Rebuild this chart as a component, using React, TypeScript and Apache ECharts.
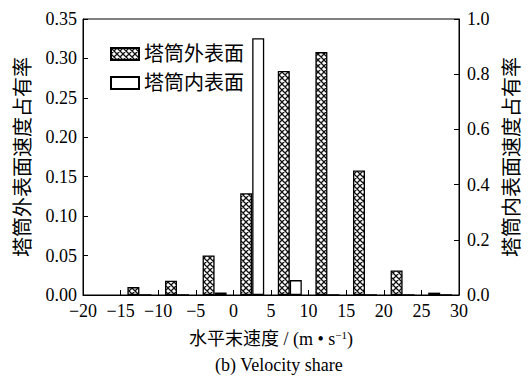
import React, { useEffect, useRef } from "react";
import * as echarts from "echarts";

const xCenters = [-12.5, -7.5, -2.5, 2.5, 7.5, 12.5, 17.5, 22.5, 27.5];
const outerShare = [0.010, 0.018, 0.050, 0.129, 0.284, 0.308, 0.158, 0.031, 0.003];
const innerShare = [0, 0, 0.009, 0.93, 0.054, 0, 0, 0, 0];
const seriesNames = ["塔筒外表面", "塔筒内表面"];
const leftAxisName = "塔筒外表面速度占有率";
const rightAxisName = "塔筒内表面速度占有率";
const xAxisNameMain = "水平末速度 / (m • s";
const captionText = "(b) Velocity share";

const FONT = "Liberation Serif, Noto Sans CJK SC, serif";

const hatchSvg =
  "<svg xmlns='http://www.w3.org/2000/svg' width='6' height='6'>" +
  "<rect width='6' height='6' fill='white'/>" +
  "<path d='M0,0L6,6M6,0L0,6M-1,5L1,7M5,-1L7,1M-1,1L1,-1M5,7L7,5' stroke='#111' stroke-width='1.3'/>" +
  "</svg>";
const hatchUrl = "data:image/svg+xml;base64," + btoa(hatchSvg);

export default function App() {
  const ref = useRef<HTMLDivElement>(null);
  useEffect(() => {
    if (!ref.current) return;
    const chart = echarts.init(ref.current, undefined, { renderer: "svg" });
    const hatch: any = { image: hatchUrl, repeat: "repeat", imageWidth: 6, imageHeight: 6 };
    const lbl = { fontFamily: FONT, fontSize: 18, color: "#000" };
    chart.setOption({
      animation: false,
      textStyle: { fontFamily: FONT, color: "#000" },
      grid: {
        left: 83,
        right: 70,
        top: 19,
        bottom: 89,
        show: true,
        borderColor: "#000",
        borderWidth: 1,
        backgroundColor: "transparent",
      },
      legend: {
        orient: "vertical",
        left: 105,
        top: 39,
        itemWidth: 28,
        itemHeight: 12,
        itemGap: 9,
        icon: "rect",
        textStyle: { fontFamily: FONT, fontSize: 20, color: "#000", lineHeight: 20 },
        data: seriesNames,
      },
      xAxis: {
        type: "value",
        min: -20,
        max: 30,
        interval: 5,
        splitLine: { show: false },
        axisLine: { onZero: false, lineStyle: { color: "#000", width: 1 } },
        axisTick: { inside: true, length: 5, lineStyle: { color: "#000" } },
        axisLabel: {
          ...lbl,
          margin: 7,
          formatter: (v: number) => String(v).replace("-", "−"),
        },
        name: "{m|" + xAxisNameMain + "}{sup|−1}{m|)}",
        nameLocation: "middle",
        nameGap: 34,
        nameTextStyle: {
          rich: {
            m: { fontFamily: FONT, fontSize: 18, color: "#000", lineHeight: 20 },
            sup: { fontFamily: FONT, fontSize: 11, color: "#000", verticalAlign: "top", lineHeight: 20, padding: [0, 0, 8, 0] },
          },
        },
      },
      yAxis: [
        {
          type: "value",
          min: 0,
          max: 0.35,
          interval: 0.05,
          position: "left",
          splitLine: { show: false },
          axisLine: { show: true, onZero: false, lineStyle: { color: "#000", width: 1 } },
          axisTick: { show: true, inside: true, length: 5, lineStyle: { color: "#000" } },
          axisLabel: {
            ...lbl,
            margin: 6,
            formatter: (v: number) => v.toFixed(2),
          },
          name: leftAxisName,
          nameLocation: "middle",
          nameRotate: 90,
          nameGap: 50,
          nameTextStyle: { fontFamily: FONT, fontSize: 20, color: "#000" },
        },
        {
          type: "value",
          min: 0,
          max: 1,
          interval: 0.2,
          position: "right",
          splitLine: { show: false },
          axisLine: { show: true, onZero: false, lineStyle: { color: "#000", width: 1 } },
          axisTick: { show: true, inside: true, length: 5, lineStyle: { color: "#000" } },
          axisLabel: {
            ...lbl,
            margin: 8,
            formatter: (v: number) => v.toFixed(1),
          },
          name: rightAxisName,
          nameLocation: "middle",
          nameRotate: 90,
          nameGap: 43,
          nameTextStyle: { fontFamily: FONT, fontSize: 20, color: "#000" },
        },
      ],
      graphic: [
        {
          type: "text",
          left: 275 - 60,
          top: 356,
          style: {
            text: captionText,
            fontFamily: FONT,
            fontSize: 18,
            fill: "#000",
          },
        },
      ],
      series: [
        {
          name: seriesNames[0],
          type: "bar",
          yAxisIndex: 0,
          barWidth: 12,
          barGap: "0%",
          itemStyle: { color: hatch, borderColor: "#000", borderWidth: 1.3 },
          data: xCenters.map((x, i) => [x, outerShare[i]]),
        },
        {
          name: seriesNames[1],
          type: "bar",
          yAxisIndex: 1,
          barWidth: 12,
          barGap: "0%",
          itemStyle: { color: "#fff", borderColor: "#000", borderWidth: 1.3 },
          data: xCenters.map((x, i) => [x, innerShare[i]]),
        },
      ],
    });
    return () => chart.dispose();
  }, []);
  return <div ref={ref} style={{ width: 530, height: 384, position: "absolute", left: 0, top: 0 }} />;
}
